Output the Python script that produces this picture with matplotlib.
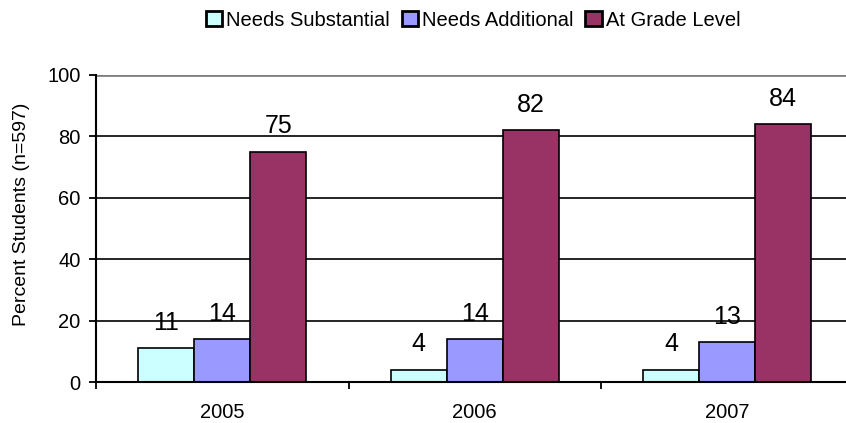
import numpy as np
import matplotlib
matplotlib.use("Agg")
import matplotlib.pyplot as plt

# ── Data ──────────────────────────────────────────────────────────────────────
years = ["2005", "2006", "2007"]
needs_substantial = [11, 4, 4]
needs_additional = [14, 14, 13]
at_grade_level = [75, 82, 84]

series_names = ["Needs Substantial", "Needs Additional", "At Grade Level"]
series_colors = ["#CCFFFF", "#9999FF", "#993366"]
y_ticks = [0, 20, 40, 60, 80, 100]

plt.rcParams["font.family"] = ["Liberation Sans", "DejaVu Sans"]

# ── Figure ────────────────────────────────────────────────────────────────────
fig = plt.figure(figsize=(8.46, 4.23), dpi=100)
ax = fig.add_axes([96 / 846, 1 - 382 / 423, 757.5 / 846, 307 / 423])

x = np.arange(len(years))
width = 0.222
offsets = [-width, 0, width]

for vals, name, color, off in zip(
    [needs_substantial, needs_additional, at_grade_level],
    series_names, series_colors, offsets,
):
    bars = ax.bar(x + off, vals, width, color=color, edgecolor="black",
                  linewidth=1.2, label=name, zorder=3)
    for bar, v in zip(bars, vals):
        ax.annotate(f"{v}", (bar.get_x() + bar.get_width() / 2, v),
                    xytext=(0, 13.3), textcoords="offset points",
                    ha="center", va="baseline", fontsize=18, zorder=4)

# gridlines: black, with the top one grey like the plot-area border
for t in y_ticks[1:]:
    ax.axhline(t, color="#808080" if t == y_ticks[-1] else "black",
               lw=2.0 if t == y_ticks[-1] else 1.2, zorder=1)

ax.set_xlim(-0.5, len(years) - 0.5)
ax.set_ylim(0, 100)
ax.set_yticks(y_ticks)
ax.tick_params(axis="y", length=5, width=1.3, pad=6, labelsize=14.5)

ax.set_xticks(np.arange(len(years) + 1) - 0.5)
ax.set_xticklabels([])
ax.set_xticks(x, minor=True)
ax.set_xticklabels(years, minor=True)
ax.tick_params(axis="x", which="major", length=5, width=1.3)
ax.tick_params(axis="x", which="minor", length=0, pad=15, labelsize=14.5)

for s in ["top", "right"]:
    ax.spines[s].set_visible(False)
for s in ["left", "bottom"]:
    ax.spines[s].set_linewidth(1.5)
    ax.spines[s].set_zorder(5)

fig.text(22 / 846, 1 - 214 / 423, "Percent Students (n=597)", rotation=90,
         ha="center", va="center", fontsize=14)

fig.legend(loc="center", bbox_to_anchor=(473 / 846, 1 - 20 / 423), ncol=3,
           frameon=False, fontsize=14.5, handlelength=0.8, handleheight=0.8,
           handletextpad=0.2, columnspacing=0.6, borderaxespad=0)
for h in fig.legends[0].legend_handles:
    h.set_linewidth(2)

fig.savefig("out.png", dpi=100)
